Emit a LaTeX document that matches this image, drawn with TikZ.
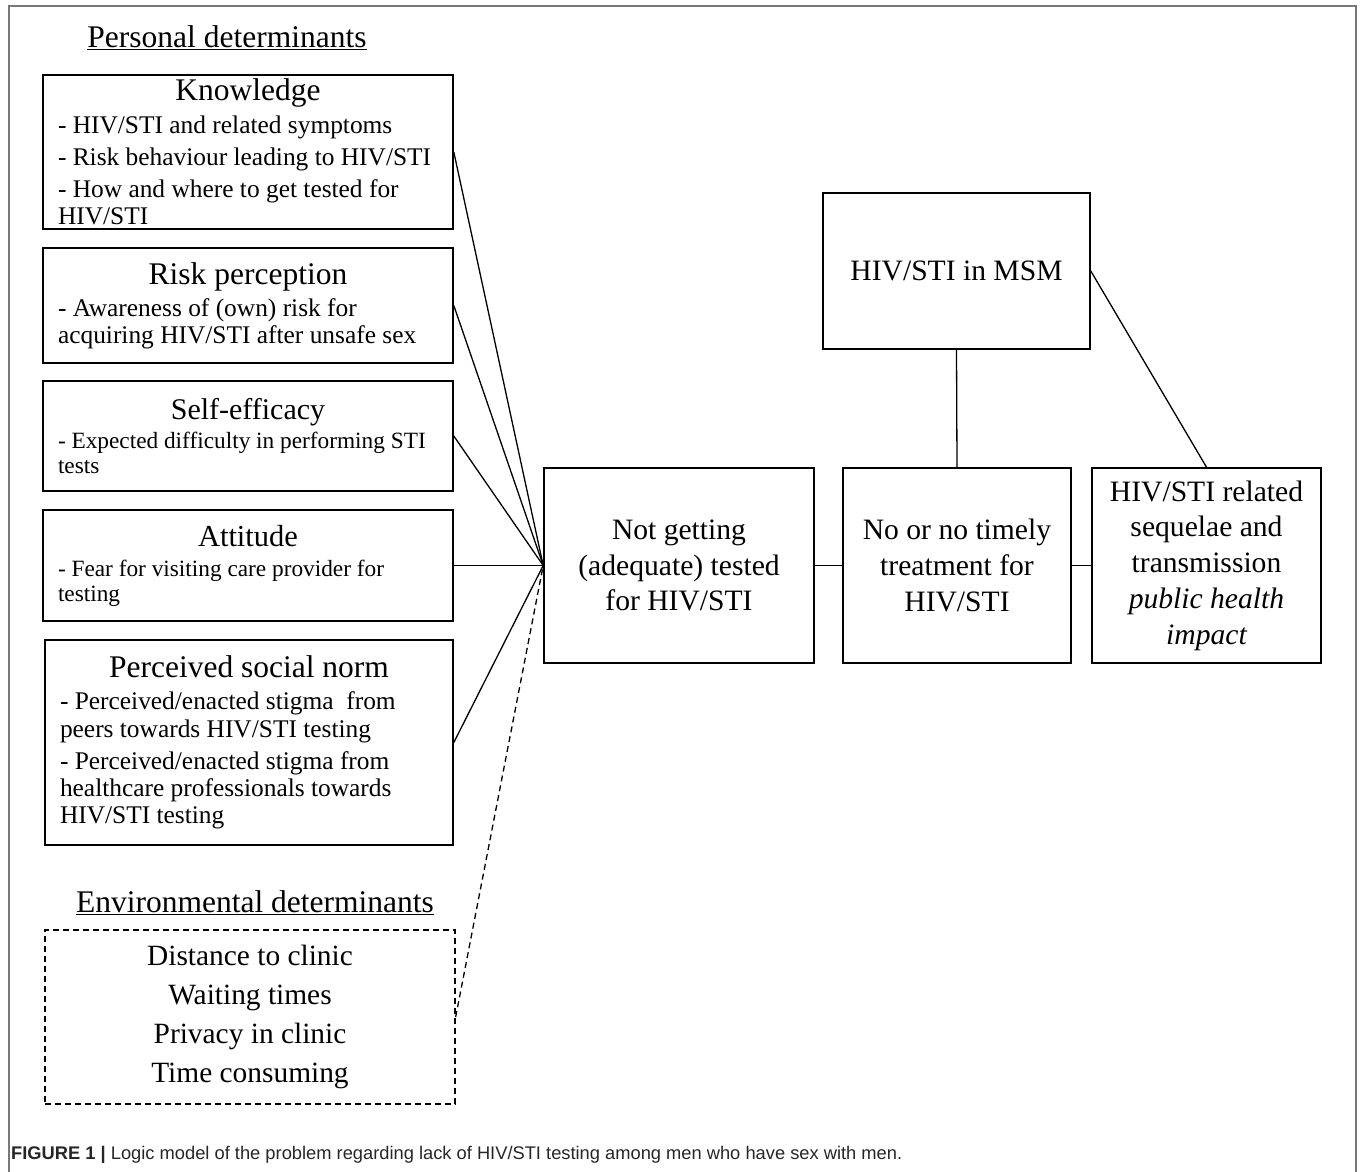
\documentclass[tikz,border=0pt]{standalone}
\usepackage{fontspec}
\setmainfont{Liberation Serif}
\newfontfamily\capfont{Liberation Sans}
\usetikzlibrary{calc,positioning}

\definecolor{framegray}{RGB}{120,120,120}
\newcommand{\dettitle}[2][31.5]{{\centering\fontsize{#1}{34}\selectfont\spaceskip=0pt\xspaceskip=0pt #2\par}}
\newcommand{\detitems}[1][25.4]{\fontsize{#1}{1.07\dimexpr#1pt\relax}\selectfont\spaceskip=0pt\xspaceskip=0pt\raggedright\leftskip=6pt\setlength{\parskip}{5pt}}

\tikzset{
	detbox/.style={draw, line width=1.6pt, minimum width=410pt, text width=392pt, inner xsep=9pt, inner ysep=0pt},
	mainbox/.style={draw, line width=1.6pt, align=center, inner sep=0pt, font=\fontsize{29.6}{35.8}\selectfont},
	heading/.style={font=\fontsize{31.5}{36}\selectfont},
	link/.style={line width=1.3pt},
}

\begin{document}
\begin{tikzpicture}[x=1pt,y=-1pt]
				%\draw[color=gray,step=50pt, help lines,opacity=0.3] (0,0) grid (1360,1172); %help grids
				\useasboundingbox (0,0) rectangle (1360,1172);
				\draw[framegray,line width=2pt] (8.5,1172) -- (8.5,6.5) -- (1355.5,6.5) -- (1355.5,1172);
				% personal determinants
				\node[heading] (pers) at (227,38) {\underline{Personal determinants}};
				\node[detbox,minimum height=154pt] (know) at (248,152) {\dettitle{Knowledge}
					{\detitems - HIV/STI and related symptoms\par - Risk behaviour leading to HIV/STI\par - How and where to get tested for\\HIV/STI\par}};
				\node[detbox,minimum height=115pt] (risk) at (248,305.5) {\dettitle{Risk perception}
					{\detitems - Awareness of (own) risk for\\acquiring HIV/STI after unsafe sex\par}};
				\node[detbox,minimum height=110pt] (self) at (248,436) {\dettitle[30]{Self-efficacy}
					{\detitems[23.3] - Expected difficulty in performing STI\\tests\par}};
				\node[detbox,minimum height=111pt] (att) at (248,565.5) {\dettitle[30.5]{Attitude}
					{\detitems[23.3] - Fear for visiting care provider for\\testing\par}};
				\node[detbox,minimum width=408pt,text width=390pt,minimum height=205pt] (norm) at (249,742.5) {\dettitle{Perceived social norm}
					{\detitems - Perceived/enacted stigma~ from\\peers towards HIV/STI testing\par - Perceived/enacted stigma from\\healthcare professionals towards\\HIV/STI testing\par}};
				% environmental determinants
				\node[heading] (envh) at (255,903) {\underline{Environmental determinants}};
				\node[draw,line width=1.3pt,dash pattern=on 6pt off 4pt,minimum width=410pt,minimum height=174pt,align=center,
					font=\fontsize{29.4}{39}\selectfont] (env) at (250,1017) {Distance to clinic\\Waiting times\\Privacy in clinic\\Time consuming};
				% problem chain
				\node[mainbox,minimum width=270pt,minimum height=195pt] (not) at (679,565.5) {Not getting\\(adequate) tested\\for HIV/STI};
				\node[mainbox,minimum width=228pt,minimum height=195pt] (treat) at (957,565.5) {No or no timely\\treatment for\\HIV/STI};
				\node[mainbox,minimum width=229pt,minimum height=195pt] (seq) at (1206.5,565.5) {HIV/STI related\\sequelae and\\transmission\\{\itshape public health}\\{\itshape impact}};
				\node[mainbox,minimum width=267pt,minimum height=156pt] (msm) at (956.5,271) {HIV/STI in MSM};
				\foreach \d in {know,risk,self,att,norm}
					\draw[link] (\d.east) -- (not.west);
				\draw[link,dash pattern=on 6pt off 4pt] (env.east) -- (not.west);
				\draw[link] (not.east) -- (treat.west);
				\draw[link] (treat.east) -- (seq.west);
				\draw[link] (msm.south) -- (treat.north);
				\draw[link] (msm.east) -- (seq.north);
				% caption
				\node[anchor=west,inner sep=0pt,text=black!85,font=\capfont\fontsize{18.3}{21}\selectfont] (cap) at (11,1155)
					{\textbf{FIGURE 1 |} Logic model of the problem regarding lack of HIV/STI testing among men who have sex with men.};
\end{tikzpicture}
\end{document}
